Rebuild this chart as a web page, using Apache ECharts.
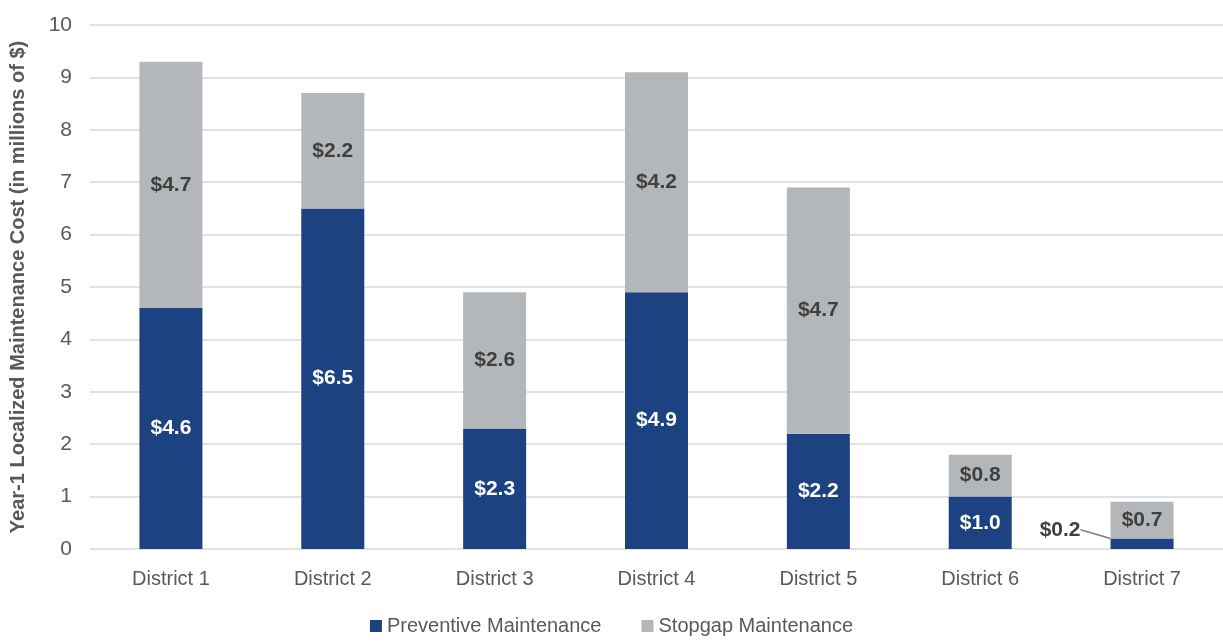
<!DOCTYPE html>
<html>
<head>
<meta charset="utf-8">
<script src="https://cdn.jsdelivr.net/npm/echarts@6/dist/echarts.min.js"></script>
<style>
  html, body { margin: 0; padding: 0; background: #fff; }
  #chart { width: 1223px; height: 643px; }
</style>
</head>
<body>
<div id="chart"></div>
<script>
const districts = ['District 1', 'District 2', 'District 3', 'District 4', 'District 5', 'District 6', 'District 7'];
const preventive = [4.6, 6.5, 2.3, 4.9, 2.2, 1.0, 0.2];
const stopgap = [4.7, 2.2, 2.6, 4.2, 4.7, 0.8, 0.7];

const font = "'Liberation Sans Narrow', 'Arial Narrow', 'Liberation Sans', Arial, sans-serif";

const chart = echarts.init(document.getElementById('chart'));

chart.setOption({
  animation: false,
  textStyle: { fontFamily: font },
  grid: { left: 85, right: 0, top: 25, bottom: 94 },
  legend: {
    bottom: 2,
    left: 'center',
    itemWidth: 12,
    itemHeight: 12,
    itemGap: 40,
    icon: 'rect',
    textStyle: { fontSize: 20, color: '#595959', fontFamily: font },
    data: ['Preventive Maintenance', 'Stopgap Maintenance']
  },
  xAxis: {
    type: 'category',
    data: districts,
    axisLine: { show: false },
    axisTick: { show: false },
    axisLabel: { fontSize: 20, color: '#595959', margin: 20, fontFamily: font }
  },
  yAxis: {
    type: 'value',
    min: 0,
    max: 10,
    interval: 1,
    name: 'Year-1 Localized Maintenance Cost (in millions of $)',
    nameLocation: 'middle',
    nameGap: 62,
    nameTextStyle: { fontSize: 20, fontWeight: 'bold', color: '#595959', fontFamily: font },
    axisLabel: { fontSize: 21, color: '#595959', margin: 18, fontFamily: font },
    splitLine: { lineStyle: { color: '#D9D9D9', width: 1.5 } }
  },
  series: [
    {
      name: 'Preventive Maintenance',
      type: 'bar',
      stack: 'total',
      barWidth: 63,
      itemStyle: { color: '#1D4281' },
      label: {
        show: true,
        position: 'inside',
        color: '#fff',
        fontWeight: 'bold',
        fontSize: 21,
        fontFamily: font,
        formatter: p => '$' + p.value.toFixed(1)
      },
      labelLine: { show: true, lineStyle: { color: '#7F7F7F', width: 1.5 } },
      labelLayout: function (p) {
        if (p.dataIndex === 6) {
          return { dx: -82, dy: -14 };
        }
      },
      data: preventive.map((v, i) => i === 6
        ? { value: v, label: { color: '#404040' } }
        : v)
    },
    {
      name: 'Stopgap Maintenance',
      type: 'bar',
      stack: 'total',
      barWidth: 63,
      itemStyle: { color: '#B4B7BA' },
      label: {
        show: true,
        position: 'inside',
        color: '#404040',
        fontWeight: 'bold',
        fontSize: 21,
        fontFamily: font,
        formatter: p => '$' + p.value.toFixed(1)
      },
      data: stopgap
    }
  ]
});
</script>
</body>
</html>
